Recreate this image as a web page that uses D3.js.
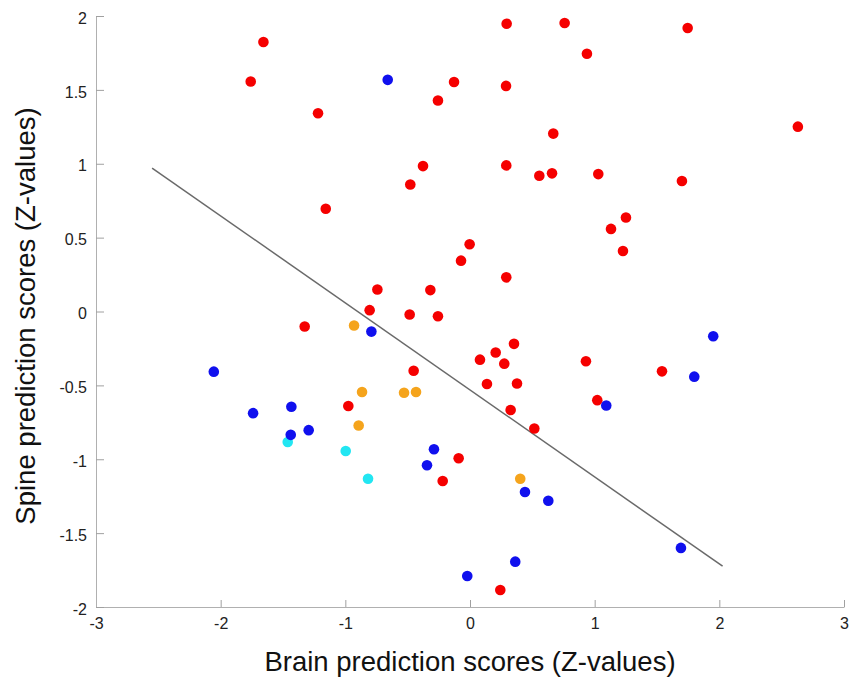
<!DOCTYPE html>
<html>
<head>
<meta charset="utf-8">
<script src="https://cdn.jsdelivr.net/npm/d3@7"></script>
<style>
  body { margin:0; background:#fff; }
  svg text { font-family: "Liberation Sans", Arial, Helvetica, sans-serif; }
</style>
</head>
<body>
<svg id="chart" width="860" height="678"></svg>
<script>
// groups of subjects: [brain score, spine score]
const redPts = [
  [-1.657,1.824],[-1.759,1.557],[0.294,1.948],[0.759,1.953],[-0.128,1.553],[0.289,1.527],
  [-0.257,1.428],[-1.219,1.342],[0.668,1.204],[-0.377,0.984],[0.291,0.989],[0.556,0.919],
  [0.658,0.935],[-0.479,0.860],[-1.157,0.695],[-0.003,0.455],[-0.072,0.344],[0.291,0.231],
  [-0.743,0.149],[-0.318,0.145],[-0.805,0.009],[-0.484,-0.020],[-0.257,-0.032],[-1.326,-0.102],
  [0.353,-0.219],[1.746,1.919],[0.938,1.745],[2.630,1.251],[1.029,0.930],[1.700,0.883],
  [1.251,0.636],[1.131,0.559],[1.227,0.409],[0.930,-0.337],[1.540,-0.405],[1.021,-0.600],
  [0.080,-0.326],[0.206,-0.278],[0.275,-0.353],[-0.452,-0.401],[0.136,-0.491],[0.377,-0.487],
  [-0.976,-0.640],[0.326,-0.667],[0.516,-0.792],[-0.091,-0.993],[-0.219,-1.147],[0.243,-1.885]
];
const orangePts = [
  [-0.930,-0.095],[-0.866,-0.545],[-0.529,-0.550],[-0.433,-0.545],[-0.893,-0.772],[0.403,-1.132]
];
const cyanPts = [
  [-1.462,-0.883],[-0.997,-0.944],[-0.818,-1.132]
];
const bluePts = [
  [-0.660,1.568],[-0.791,-0.136],[1.951,-0.168],[1.799,-0.441],[1.093,-0.636],[1.692,-1.600],
  [-1.433,-0.645],[-1.438,-0.835],[-1.294,-0.803],[-0.289,-0.932],[-0.345,-1.041],[0.441,-1.222],
  [0.628,-1.281],[0.363,-1.693],[-0.022,-1.790],[-2.055,-0.407],[-1.740,-0.688]
];
const fitLine = [[-2.55,0.971],[2.026,-1.724]];

const xTicks = [-3,-2,-1,0,1,2,3];
const yTicks = [-2,-1.5,-1,-0.5,0,0.5,1,1.5,2];

const svg = d3.select('#chart');
const margin = { top:16, right:16, bottom:71, left:96 };
const w = 860 - margin.left - margin.right;
const h = 678 - margin.top - margin.bottom;
const g = svg.append('g').attr('transform', `translate(${margin.left},${margin.top})`);

const x = d3.scaleLinear().domain([-3,3]).range([0,w]);
const y = d3.scaleLinear().domain([-2,2]).range([h,0]);

const fmt = d => d.toString();

const gx = g.append('g').attr('transform', `translate(0,${h})`)
  .call(d3.axisBottom(x).tickValues(xTicks).tickFormat(fmt).tickSize(-7).tickSizeOuter(0).tickPadding(11));
const gy = g.append('g')
  .call(d3.axisLeft(y).tickValues(yTicks).tickFormat(fmt).tickSize(-8).tickSizeOuter(0).tickPadding(9));

[gx, gy].forEach(a => {
  a.select('.domain').attr('stroke','#b0b0b0');
  a.selectAll('.tick line').attr('stroke','#a0a0a0');
  a.selectAll('.tick text').attr('fill','#222').style('font-size','16px');
});
gy.selectAll('.tick text').attr('dy','0.45em');

// regression line
g.append('line')
  .attr('x1', x(fitLine[0][0])).attr('y1', y(fitLine[0][1]))
  .attr('x2', x(fitLine[1][0])).attr('y2', y(fitLine[1][1]))
  .attr('stroke','#6a6a6a').attr('stroke-width',1.5);

const groups = [
  { pts: redPts,    color:'#f50000' },
  { pts: orangePts, color:'#f5a41c' },
  { pts: cyanPts,   color:'#22e6f2' },
  { pts: bluePts,   color:'#1010ee' }
];
groups.forEach(gr => {
  g.append('g').selectAll('circle').data(gr.pts).join('circle')
    .attr('cx', d => x(d[0]))
    .attr('cy', d => y(d[1]))
    .attr('r', 5.3)
    .attr('fill', gr.color);
});

// axis titles
svg.append('text')
  .attr('x', margin.left + x(0)).attr('y', 671)
  .attr('text-anchor','middle')
  .style('font-size','27.5px').attr('fill','#111')
  .text('Brain prediction scores (Z-values)');
svg.append('text')
  .attr('transform', `translate(35,316) rotate(-90)`)
  .attr('text-anchor','middle')
  .style('font-size','27.5px').attr('fill','#111')
  .text('Spine prediction scores (Z-values)');
</script>
</body>
</html>
